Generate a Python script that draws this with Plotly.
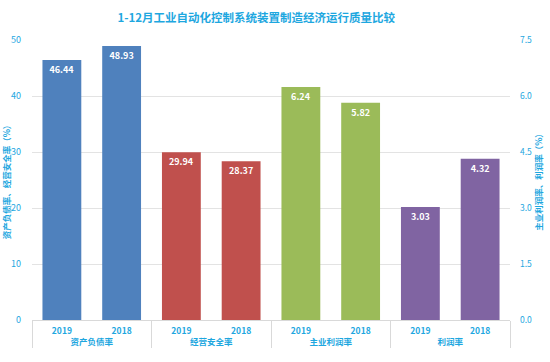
import plotly.graph_objects as go

groups_left = ["资产负债率", "资产负债率", "经营安全率", "经营安全率"]
groups_right = ["主业利润率", "主业利润率", "利润率", "利润率"]
years_left = ["2019", "2018", "2019", "2018"]
years_right = ["2019", "2018", "2019", "2018"]
values_left = [46.44, 48.93, 29.94, 28.37]
values_right = [6.24, 5.82, 3.03, 4.32]
colors_left = ["#4F81BD", "#4F81BD", "#C0504D", "#C0504D"]
colors_right = ["#9BBB59", "#9BBB59", "#8064A2", "#8064A2"]

title_text = "1-12月工业自动化控制系统装置制造经济运行质量比较"
ytitle_left = "资产负债率、经营安全率（%）"
ytitle_right = "主业利润率、利润率（%）"

CYAN = "#1EA7DF"
FONT = "Noto Sans CJK SC"

fig = go.Figure()
fig.add_trace(go.Bar(
    x=[groups_left, years_left], y=values_left,
    marker=dict(color=colors_left, line=dict(width=0)),
    text=[f"{v:.2f}" for v in values_left], textposition="inside",
    insidetextanchor="end", textangle=0,
    textfont=dict(color="white", size=9, family=FONT, weight="bold"),
    yaxis="y", showlegend=False,
))
fig.add_trace(go.Bar(
    x=[groups_right, years_right], y=values_right,
    marker=dict(color=colors_right, line=dict(width=0)),
    text=[f"{v:.2f}" for v in values_right], textposition="inside",
    insidetextanchor="end", textangle=0,
    textfont=dict(color="white", size=9, family=FONT, weight="bold"),
    yaxis="y2", showlegend=False,
))

fig.update_layout(
    width=550, height=362,
    margin=dict(l=32, r=40, t=40, b=42, autoexpand=False),
    paper_bgcolor="white", plot_bgcolor="white",
    bargap=0.35,
    font=dict(family=FONT, color=CYAN),
    title=dict(text=title_text, x=0.466, xanchor="center", y=0.95, yanchor="middle",
               font=dict(size=11.5, color=CYAN, family=FONT, weight="bold")),
    xaxis=dict(
        type="multicategory", showline=True, linecolor="#D9D9D9", linewidth=1,
        showdividers=True, dividercolor="#D9D9D9", dividerwidth=1,
        tickfont=dict(size=8.5, color=CYAN, family=FONT, weight="bold"),
        ticks="", automargin=False, ticklabelstandoff=3,
    ),
    yaxis=dict(
        range=[0, 50], dtick=10, showgrid=True, gridcolor="#E3E3E3", gridwidth=1,
        zeroline=False, tickfont=dict(size=9, color=CYAN),
        ticklabelstandoff=10, automargin=False,
        title=dict(text=ytitle_left, standoff=4, font=dict(size=8.5, color=CYAN, weight="bold")),
    ),
    yaxis2=dict(
        range=[0, 7.5], dtick=1.5, tickformat=".1f", overlaying="y", side="right",
        showgrid=False, zeroline=False, tickfont=dict(size=8.5, color=CYAN),
        ticklabelstandoff=9, automargin=False,
        title=dict(text=ytitle_right, standoff=2, font=dict(size=8.5, color=CYAN, weight="bold")),
    ),
)

fig.write_html("out.html", config={"displayModeBar": False},
               post_script="document.body.style.margin='0';document.body.style.overflow='hidden';")
